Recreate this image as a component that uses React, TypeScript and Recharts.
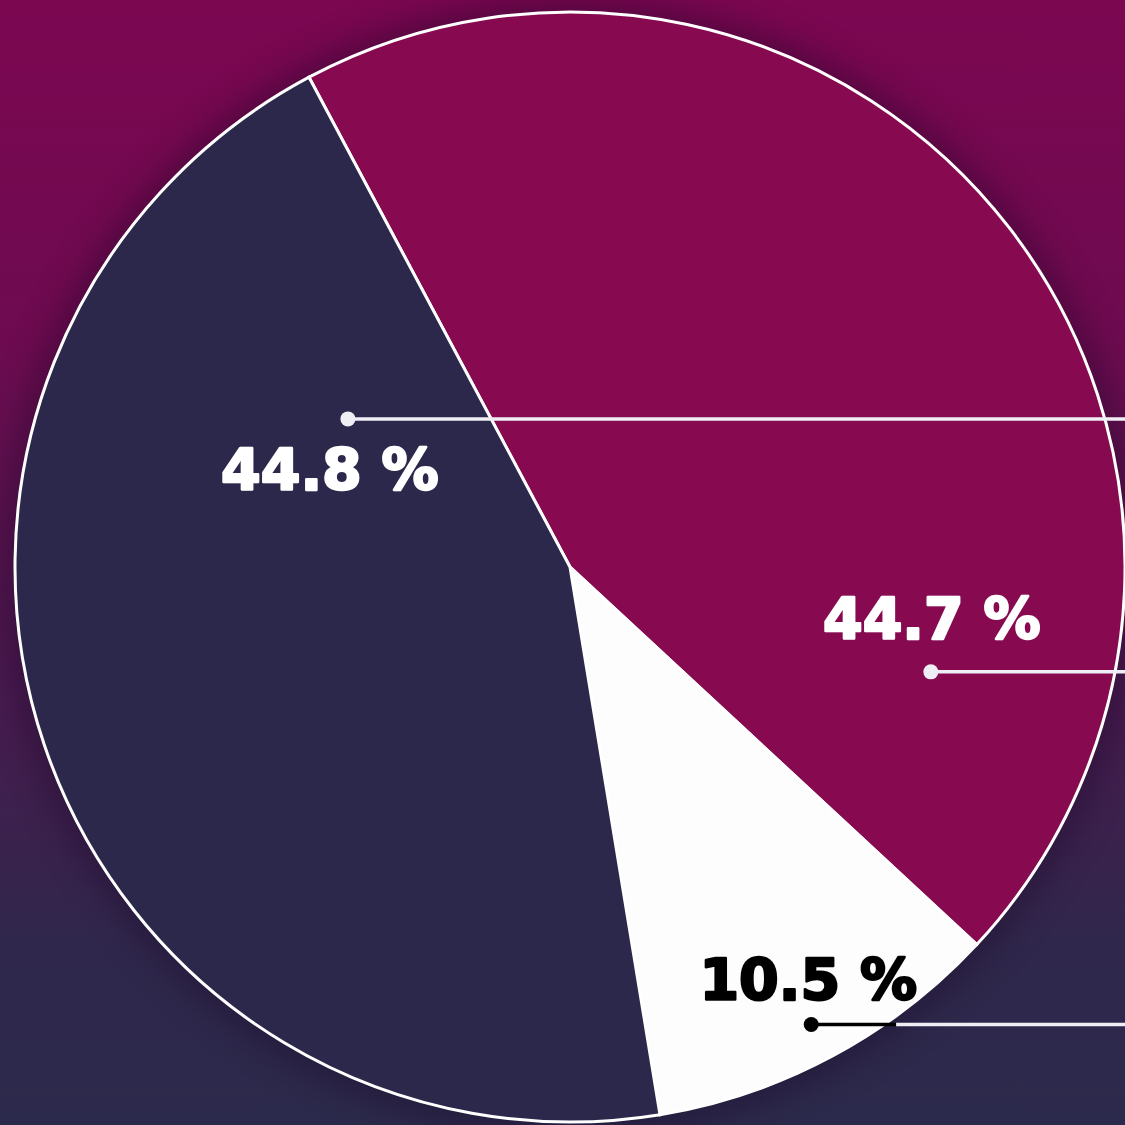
import React from 'react';
import { PieChart, Pie, Cell } from 'recharts';

const categories = ['Segment A', 'Segment B', 'Segment C'];
const values = [44.7, 10.5, 44.8];
const percentLabels = ['44.7 %', '10.5 %', '44.8 %'];
const sliceColors = ['#870a50', '#fdfdfd', '#2c284b'];
const labelColors = ['#ffffff', '#000000', '#ffffff'];

const data = categories.map((name, i) => ({ name, value: values[i] }));

const W = 1125;
const H = 1125;
const CX = 570;
const CY = 567;
const R = 555;
const START = 118.05;

// label anchor placement (polar, relative to the pie) and text offsets
const labelLayout = [
  { angle: -16.2, rf: 0.677, tdx: 1, tdy: -33 },
  { angle: -62.2, rf: 0.932, tdx: -3, tdy: -25 },
  { angle: 146.3, rf: 0.481, tdx: -18, tdy: 71 },
];

const RAD = Math.PI / 180;

const renderLabel = (props: any) => {
  const { cx, cy, outerRadius, index } = props;
  const lay = labelLayout[index];
  const r = outerRadius * lay.rf;
  const x = cx + r * Math.cos(lay.angle * RAD);
  const y = cy - r * Math.sin(lay.angle * RAD);
  const col = labelColors[index];
  const lineLight = '#f0eef5';
  const dy = y - cy;
  const edgeX = cx + Math.sqrt(Math.max(0, outerRadius * outerRadius - dy * dy));
  const dark = col === '#000000';
  return (
    <g key={`lbl-${index}`}>
      {dark ? (
        <>
          <line x1={x} y1={y} x2={edgeX + 12} y2={y} stroke="#000" strokeWidth={3.5} />
          <line x1={edgeX + 12} y1={y} x2={W + 10} y2={y} stroke={lineLight} strokeWidth={3.5} />
        </>
      ) : (
        <line x1={x} y1={y} x2={W + 10} y2={y} stroke={lineLight} strokeWidth={3.5} />
      )}
      <circle cx={x} cy={y} r={7.5} fill={dark ? '#000' : lineLight} />
      <text
        x={x + lay.tdx}
        y={y + lay.tdy}
        textAnchor="middle"
        fill={col}
        stroke={col}
        strokeWidth={2.5}
        strokeLinejoin="round"
        fontFamily="'DejaVu Sans', sans-serif"
        fontWeight={700}
        fontSize={57}
      >
        {percentLabels[index]}
      </text>
    </g>
  );
};

export default function App() {
  return (
    <div
      style={{
        position: 'absolute',
        left: 0,
        top: 0,
        width: W,
        height: H,
        overflow: 'hidden',
        background:
          'linear-gradient(180deg, #7b0751 0%, #6e0b50 30%, #4a1a4f 60%, #2f284c 85%, #2c2a4c 100%)',
      }}
    >
      <div
        style={{
          position: 'absolute',
          left: CX - R,
          top: CY - R,
          width: R * 2,
          height: R * 2,
          borderRadius: '50%',
          boxShadow: '0 0 36px 8px rgba(25, 5, 35, 0.45)',
        }}
      />
      <div style={{ position: 'absolute', left: 0, top: 0 }}>
        <PieChart width={W} height={H} margin={{ top: 0, right: 0, bottom: 0, left: 0 }}>
          <Pie
            data={data}
            dataKey="value"
            nameKey="name"
            cx={CX}
            cy={CY}
            innerRadius={0}
            outerRadius={R}
            startAngle={START}
            endAngle={START - 360}
            stroke="#ffffff"
            strokeWidth={3}
            label={renderLabel}
            labelLine={false}
            isAnimationActive={false}
          >
            {data.map((d, i) => (
              <Cell key={d.name} fill={sliceColors[i]} stroke="#ffffff" strokeWidth={3} />
            ))}
          </Pie>
        </PieChart>
      </div>
    </div>
  );
}
